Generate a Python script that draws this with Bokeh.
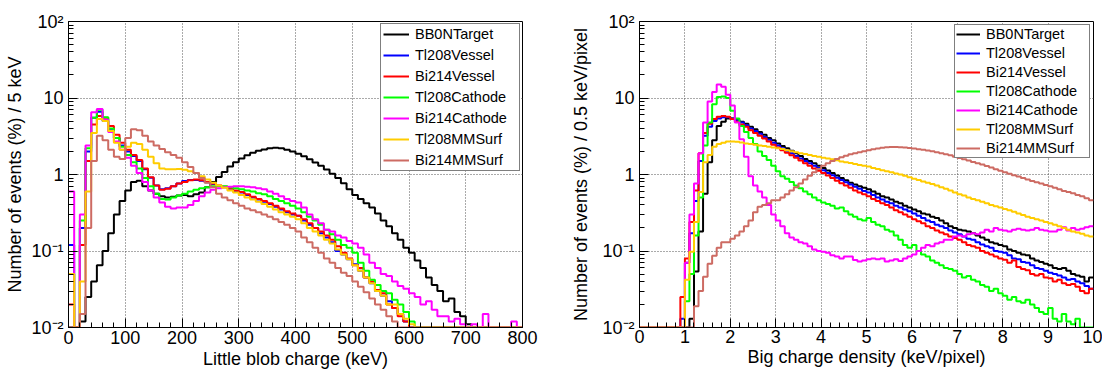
import numpy as np
from bokeh.plotting import figure
from bokeh.layouts import row
from bokeh.models import FixedTicker, CustomJSTickFormatter, Range1d
from bokeh.embed import file_html
from bokeh.resources import INLINE

# ---------------- data ----------------
series_names = ["BB0NTarget", "Tl208Vessel", "Bi214Vessel", "Tl208Cathode",
                "Bi214Cathode", "Tl208MMSurf", "Bi214MMSurf"]
series_colors = ["#000000", "#0000ff", "#ff0000", "#00ff00",
                 "#ff00ff", "#ffcc00", "#cd6b63"]

# Left: little blob charge, 10 keV bins from 0 to 800 keV (values in %)
blob_bin_width = 10
blob_range = (0, 800)
blob_bb0n = [0.01, 0.01, 0.012, 0.025, 0.04, 0.065, 0.1, 0.17, 0.3, 0.45,
             0.62, 0.8, 0.83, 0.7, 0.62, 0.56, 0.52, 0.5, 0.51, 0.53,
             0.54, 0.52, 0.55, 0.58, 0.68, 0.8, 0.93, 1.08, 1.27, 1.45,
             1.62, 1.78, 1.93, 2.04, 2.13, 2.2, 2.24, 2.2, 2.1, 2.0,
             1.87, 1.73, 1.58, 1.43, 1.3, 1.16, 1.02, 0.9, 0.77, 0.64,
             0.54, 0.48, 0.42, 0.37, 0.31, 0.25, 0.21, 0.17, 0.14, 0.11,
             0.095, 0.075, 0.06, 0.045, 0.036, 0.03, 0.022, 0.024, 0.016, 0.014,
             0.011, 0.01, 0.01, 0.01, 0.01, 0.01, 0.01, 0.01, 0.01, 0.01]
blob_tl208_vessel = [0.12, 0.01, 0.2, 2.0, 5.5, 6.6, 5.0, 3.8, 3.0, 2.4,
                     2.0, 1.75, 1.5, 1.17, 0.91, 0.72, 0.64, 0.66, 0.7, 0.76,
                     0.82, 0.85, 0.85, 0.83, 0.79, 0.75, 0.71, 0.68, 0.65, 0.61,
                     0.58, 0.54, 0.5, 0.47, 0.44, 0.41, 0.38, 0.35, 0.32, 0.3,
                     0.29, 0.25, 0.22, 0.2, 0.17, 0.15, 0.13, 0.1, 0.09, 0.078,
                     0.067, 0.055, 0.045, 0.038, 0.03, 0.026, 0.022, 0.018, 0.015, 0.012,
                     0.01, 0.01, 0.01, 0.01, 0.01, 0.01, 0.01, 0.01, 0.01, 0.01,
                     0.01, 0.01, 0.01, 0.01, 0.01, 0.01, 0.01, 0.01, 0.01, 0.01]
blob_bi214_vessel = [0.02, 0.01, 0.12, 1.5, 4.5, 5.8, 5.5, 4.3, 3.3, 2.6,
                     2.1, 1.8, 1.55, 1.2, 0.92, 0.72, 0.63, 0.65, 0.7, 0.76,
                     0.8, 0.84, 0.86, 0.84, 0.8, 0.76, 0.72, 0.69, 0.66, 0.62,
                     0.59, 0.55, 0.51, 0.48, 0.45, 0.42, 0.39, 0.36, 0.33, 0.31,
                     0.29, 0.26, 0.23, 0.2, 0.18, 0.16, 0.14, 0.115, 0.095, 0.08,
                     0.065, 0.06, 0.045, 0.04, 0.031, 0.028, 0.02, 0.018, 0.014, 0.012,
                     0.01, 0.01, 0.01, 0.01, 0.01, 0.01, 0.01, 0.01, 0.01, 0.01,
                     0.01, 0.01, 0.01, 0.01, 0.01, 0.01, 0.01, 0.01, 0.01, 0.01]
blob_tl208_cathode = [0.05, 0.01, 0.25, 2.2, 5.5, 7.0, 5.6, 4.0, 3.0, 2.3,
                      1.8, 1.45, 1.2, 0.9, 0.7, 0.56, 0.48, 0.47, 0.5, 0.53,
                      0.56, 0.6, 0.63, 0.66, 0.68, 0.7, 0.7, 0.7, 0.68, 0.66,
                      0.64, 0.62, 0.6, 0.57, 0.55, 0.52, 0.48, 0.45, 0.42, 0.39,
                      0.36, 0.32, 0.28, 0.25, 0.22, 0.19, 0.165, 0.14, 0.12, 0.11,
                      0.095, 0.07, 0.055, 0.042, 0.036, 0.03, 0.028, 0.023, 0.02, 0.016,
                      0.012, 0.01, 0.01, 0.01, 0.01, 0.01, 0.01, 0.01, 0.01, 0.01,
                      0.01, 0.01, 0.01, 0.01, 0.01, 0.01, 0.01, 0.01, 0.01, 0.01]
blob_bi214_cathode = [0.6, 0.01, 0.3, 2.4, 6.5, 7.2, 5.2, 3.6, 2.7, 2.1,
                      1.65, 1.3, 1.05, 0.8, 0.62, 0.5, 0.43, 0.38, 0.36, 0.37,
                      0.37, 0.4, 0.45, 0.52, 0.58, 0.63, 0.66, 0.68, 0.69, 0.7,
                      0.7, 0.69, 0.68, 0.66, 0.64, 0.6, 0.56, 0.52, 0.48, 0.45,
                      0.43, 0.37, 0.3, 0.26, 0.23, 0.19, 0.18, 0.16, 0.15, 0.135,
                      0.125, 0.11, 0.09, 0.07, 0.06, 0.05, 0.047, 0.04, 0.035, 0.032,
                      0.028, 0.025, 0.02, 0.022, 0.017, 0.014, 0.014, 0.012, 0.013, 0.011,
                      0.01, 0.011, 0.01, 0.015, 0.01, 0.01, 0.01, 0.01, 0.012, 0.01]
blob_tl208_mmsurf = [0.05, 0.01, 0.04, 0.6, 3.5, 5.3, 5.0, 3.7, 2.6, 2.1,
                     2.3, 2.6, 2.5, 2.1, 1.7, 1.4, 1.2, 1.17, 1.17, 1.18,
                     1.15, 1.1, 1.05, 0.95, 0.86, 0.78, 0.72, 0.67, 0.62, 0.58,
                     0.54, 0.5, 0.47, 0.44, 0.41, 0.38, 0.35, 0.32, 0.3, 0.28,
                     0.26, 0.23, 0.2, 0.18, 0.16, 0.14, 0.125, 0.105, 0.09, 0.078,
                     0.065, 0.055, 0.045, 0.038, 0.03, 0.026, 0.02, 0.02, 0.015, 0.013,
                     0.011, 0.01, 0.01, 0.01, 0.01, 0.01, 0.01, 0.01, 0.01, 0.01,
                     0.01, 0.01, 0.01, 0.01, 0.01, 0.01, 0.01, 0.01, 0.01, 0.01]
blob_bi214_mmsurf = [0.01, 0.01, 0.015, 0.2, 1.5, 3.2, 2.8, 2.1, 1.7, 1.6,
                     3.0, 3.9, 3.8, 3.2, 2.7, 2.4, 2.15, 1.95, 1.8, 1.65,
                     1.45, 1.25, 1.05, 0.9, 0.78, 0.68, 0.56, 0.5, 0.46, 0.42,
                     0.39, 0.36, 0.34, 0.32, 0.3, 0.28, 0.26, 0.24, 0.22, 0.2,
                     0.18, 0.15, 0.13, 0.11, 0.095, 0.08, 0.07, 0.06, 0.052, 0.047,
                     0.04, 0.034, 0.029, 0.024, 0.02, 0.017, 0.014, 0.012, 0.01, 0.01,
                     0.01, 0.01, 0.01, 0.01, 0.01, 0.01, 0.01, 0.01, 0.01, 0.01,
                     0.01, 0.01, 0.01, 0.01, 0.01, 0.01, 0.01, 0.01, 0.01, 0.01]

# Right: big charge density, 0.1 keV/pixel bins from 0 to 10 (values in %)
dens_bin_width = 0.1
dens_range = (0, 10)
dens_bb0n = [0.01, 0.01, 0.01, 0.01, 0.01, 0.01, 0.01, 0.01, 0.01, 0.01,
             0.01, 0.013, 0.054, 0.18, 0.56, 1.45, 2.8, 4.3, 4.9, 5.4,
             5.4, 5.2, 4.9, 4.6, 4.2, 3.9, 3.6, 3.3, 3.0, 2.8,
             2.55, 2.35, 2.2, 2.05, 1.9, 1.75, 1.6, 1.5, 1.4, 1.3,
             1.22, 1.13, 1.05, 0.97, 0.9, 0.84, 0.78, 0.74, 0.7, 0.67,
             0.64, 0.6, 0.56, 0.52, 0.5, 0.47, 0.44, 0.42, 0.39, 0.37,
             0.35, 0.33, 0.31, 0.3, 0.28, 0.27, 0.25, 0.23, 0.21, 0.2,
             0.19, 0.185, 0.18, 0.17, 0.16, 0.15, 0.14, 0.13, 0.125, 0.12,
             0.115, 0.105, 0.1, 0.095, 0.09, 0.088, 0.08, 0.075, 0.072, 0.068,
             0.065, 0.06, 0.058, 0.06, 0.055, 0.05, 0.048, 0.046, 0.04, 0.045]
dens_tl208_vessel = [0.01, 0.01, 0.01, 0.01, 0.01, 0.01, 0.01, 0.01, 0.01, 0.013,
                     0.07, 0.17, 0.45, 1.5, 3.2, 4.2, 5.0, 5.4, 5.6, 5.6,
                     5.4, 5.1, 4.8, 4.4, 4.0, 3.7, 3.4, 3.1, 2.85, 2.6,
                     2.4, 2.2, 2.05, 1.9, 1.75, 1.62, 1.5, 1.4, 1.3, 1.22,
                     1.14, 1.05, 0.98, 0.91, 0.85, 0.79, 0.74, 0.69, 0.65, 0.61,
                     0.58, 0.54, 0.5, 0.47, 0.44, 0.42, 0.39, 0.37, 0.35, 0.33,
                     0.31, 0.29, 0.27, 0.25, 0.24, 0.22, 0.21, 0.2, 0.185, 0.175,
                     0.165, 0.155, 0.145, 0.14, 0.13, 0.122, 0.115, 0.11, 0.1, 0.098,
                     0.095, 0.088, 0.08, 0.078, 0.072, 0.07, 0.065, 0.06, 0.058, 0.055,
                     0.052, 0.05, 0.048, 0.045, 0.042, 0.043, 0.04, 0.038, 0.035, 0.032]
dens_bi214_vessel = [0.01, 0.01, 0.01, 0.01, 0.01, 0.01, 0.01, 0.01, 0.01, 0.025,
                     0.08, 0.24, 0.62, 1.9, 3.5, 4.6, 5.3, 5.7, 5.8, 5.7,
                     5.3, 4.9, 4.5, 4.2, 3.8, 3.5, 3.2, 2.95, 2.7, 2.45,
                     2.25, 2.08, 1.92, 1.78, 1.65, 1.52, 1.4, 1.3, 1.2, 1.12,
                     1.05, 0.97, 0.9, 0.83, 0.77, 0.72, 0.67, 0.62, 0.58, 0.55,
                     0.52, 0.48, 0.45, 0.42, 0.4, 0.37, 0.34, 0.32, 0.3, 0.28,
                     0.26, 0.245, 0.23, 0.21, 0.2, 0.185, 0.175, 0.165, 0.155, 0.148,
                     0.14, 0.13, 0.12, 0.115, 0.11, 0.1, 0.095, 0.09, 0.085, 0.08,
                     0.077, 0.07, 0.075, 0.062, 0.058, 0.056, 0.05, 0.048, 0.05, 0.045,
                     0.044, 0.04, 0.042, 0.038, 0.036, 0.037, 0.034, 0.03, 0.028, 0.032]
dens_tl208_cathode = [0.01, 0.01, 0.01, 0.01, 0.01, 0.01, 0.01, 0.01, 0.01, 0.01,
                      0.022, 0.05, 0.16, 0.5, 2.4, 4.8, 8.3, 10.3, 10.5, 10.0,
                      6.8, 5.4, 4.3, 3.6, 3.0, 2.5, 2.0, 1.75, 1.55, 1.3,
                      1.1, 0.95, 0.88, 0.8, 0.72, 0.66, 0.6, 0.55, 0.5, 0.46,
                      0.43, 0.41, 0.39, 0.36, 0.37, 0.33, 0.3, 0.28, 0.26, 0.25,
                      0.27, 0.24, 0.22, 0.21, 0.19, 0.18, 0.16, 0.14, 0.12, 0.11,
                      0.12, 0.1, 0.09, 0.085, 0.075, 0.07, 0.065, 0.06, 0.058, 0.055,
                      0.05, 0.045, 0.047, 0.042, 0.04, 0.036, 0.034, 0.03, 0.032, 0.028,
                      0.026, 0.023, 0.025, 0.022, 0.021, 0.023, 0.02, 0.018, 0.016, 0.015,
                      0.018, 0.013, 0.012, 0.015, 0.012, 0.011, 0.013, 0.01, 0.01, 0.01]
dens_bi214_cathode = [0.01, 0.01, 0.01, 0.01, 0.01, 0.01, 0.01, 0.01, 0.01, 0.01,
                      0.07, 0.3, 0.76, 1.9, 4.8, 9.0, 12.0, 15.0, 14.0, 11.0,
                      8.0, 4.8, 2.9, 1.7, 0.95, 0.72, 0.6, 0.5, 0.4, 0.3,
                      0.25, 0.21, 0.17, 0.15, 0.14, 0.13, 0.125, 0.115, 0.105, 0.1,
                      0.098, 0.095, 0.088, 0.085, 0.08, 0.085, 0.085, 0.076, 0.073, 0.075,
                      0.078, 0.08, 0.078, 0.08, 0.073, 0.075, 0.078, 0.074, 0.08, 0.085,
                      0.09, 0.1, 0.11, 0.12, 0.115, 0.125, 0.13, 0.14, 0.14, 0.155,
                      0.16, 0.155, 0.165, 0.17, 0.165, 0.175, 0.19, 0.18, 0.2, 0.19,
                      0.185, 0.18, 0.19, 0.195, 0.19, 0.185, 0.19, 0.2, 0.19, 0.185,
                      0.18, 0.18, 0.19, 0.205, 0.185, 0.2, 0.19, 0.195, 0.205, 0.21]
dens_tl208_mmsurf = [0.01, 0.01, 0.01, 0.01, 0.01, 0.01, 0.01, 0.01, 0.01, 0.01,
                     0.042, 0.098, 0.24, 0.59, 1.45, 1.8, 2.3, 2.5, 2.6, 2.7,
                     2.7, 2.68, 2.62, 2.55, 2.5, 2.45, 2.4, 2.35, 2.3, 2.25,
                     2.2, 2.15, 2.08, 2.02, 1.96, 1.9, 1.85, 1.8, 1.75, 1.7,
                     1.66, 1.62, 1.58, 1.53, 1.48, 1.45, 1.41, 1.37, 1.33, 1.3,
                     1.27, 1.22, 1.18, 1.14, 1.1, 1.07, 1.03, 1.0, 0.96, 0.92,
                     0.88, 0.85, 0.81, 0.78, 0.75, 0.72, 0.68, 0.65, 0.62, 0.58,
                     0.55, 0.53, 0.5, 0.48, 0.46, 0.44, 0.42, 0.4, 0.385, 0.37,
                     0.355, 0.34, 0.325, 0.31, 0.295, 0.28, 0.27, 0.26, 0.25, 0.24,
                     0.23, 0.22, 0.21, 0.2, 0.19, 0.18, 0.175, 0.168, 0.16, 0.155]
dens_bi214_mmsurf = [0.01, 0.01, 0.01, 0.01, 0.01, 0.01, 0.01, 0.01, 0.01, 0.01,
                     0.01, 0.01, 0.019, 0.03, 0.046, 0.068, 0.087, 0.11, 0.13, 0.13,
                     0.145, 0.16, 0.18, 0.21, 0.25, 0.32, 0.38, 0.4, 0.42, 0.46,
                     0.46, 0.5, 0.55, 0.62, 0.68, 0.76, 0.86, 0.96, 1.07, 1.18,
                     1.3, 1.4, 1.5, 1.6, 1.68, 1.76, 1.84, 1.9, 1.96, 2.02,
                     2.08, 2.14, 2.19, 2.23, 2.27, 2.28, 2.28, 2.27, 2.25, 2.22,
                     2.18, 2.14, 2.1, 2.06, 2.01, 1.96, 1.9, 1.84, 1.78, 1.71,
                     1.64, 1.58, 1.52, 1.46, 1.4, 1.35, 1.29, 1.23, 1.17, 1.12,
                     1.07, 1.02, 0.98, 0.94, 0.9, 0.86, 0.82, 0.79, 0.76, 0.73,
                     0.7, 0.67, 0.64, 0.61, 0.59, 0.57, 0.54, 0.52, 0.49, 0.46]

blob_series = [blob_bb0n, blob_tl208_vessel, blob_bi214_vessel, blob_tl208_cathode,
               blob_bi214_cathode, blob_tl208_mmsurf, blob_bi214_mmsurf]
dens_series = [dens_bb0n, dens_tl208_vessel, dens_bi214_vessel, dens_tl208_cathode,
               dens_bi214_cathode, dens_tl208_mmsurf, dens_bi214_mmsurf]

FONT = "Liberation Sans"

Y_FORMAT = CustomJSTickFormatter(code="""
const e = Math.round(Math.log10(tick));
if (e == 0) { return "1"; }
if (e == 1) { return "10"; }
const sup = {"2": "\\u00b2", "-1": "\\u207b\\u00b9", "-2": "\\u207b\\u00b2"};
return "10" + sup[String(e)];
""")


def make_panel(series, bin_width, xr, major, minor, xlabel, ylabel,
               left, right, top, bottom, ylab_standoff, xlab_standoffs,
               leg_spacing, leg_pad, leg_margin, leg_glyph):
    fw, fh = 454, 306
    p = figure(frame_width=fw, frame_height=fh, output_backend="svg",
               toolbar_location=None, y_axis_type="log",
               x_range=Range1d(*xr), y_range=Range1d(0.01, 100),
               min_border_left=left, min_border_right=right,
               min_border_top=top, min_border_bottom=bottom)
    p.background_fill_color = "white"
    p.border_fill_color = "white"
    p.outline_line_color = "black"
    p.outline_line_width = 1

    n = len(series[0])
    edges = xr[0] + bin_width * np.arange(n + 1)
    for vals, name, col in zip(series, series_names, series_colors):
        y = list(vals) + [vals[-1]]
        p.step(edges, y, mode="after", line_color=col, line_width=2,
               legend_label=name)

    p.xaxis.ticker = FixedTicker(ticks=major, minor_ticks=minor)
    ymajor = [0.01, 0.1, 1, 10, 100]
    yminor = [m * 10.0 ** e for e in range(-2, 2) for m in range(2, 10)]
    p.yaxis.ticker = FixedTicker(ticks=ymajor, minor_ticks=yminor)
    p.yaxis.formatter = Y_FORMAT
    for ax in (p.xaxis[0], p.yaxis[0]):
        ax.axis_line_color = "black"
        ax.major_tick_line_color = "black"
        ax.minor_tick_line_color = "black"
        ax.major_tick_in = 9
        ax.major_tick_out = 0
        ax.minor_tick_in = 5
        ax.minor_tick_out = 0
        ax.major_label_text_font = FONT
        ax.major_label_text_font_size = "18px"
        ax.major_label_text_color = "black"
        ax.axis_label_text_font = FONT
        ax.axis_label_text_font_size = "18px"
        ax.axis_label_text_font_style = "normal"
        ax.axis_label_text_color = "black"
    p.xaxis.axis_label = xlabel
    p.yaxis.axis_label = ylabel
    p.xaxis.major_label_standoff = xlab_standoffs[0]
    p.xaxis.axis_label_standoff = xlab_standoffs[1]
    p.yaxis.major_label_standoff = 5
    p.yaxis.axis_label_standoff = ylab_standoff

    for g in (p.xgrid[0], p.ygrid[0]):
        g.grid_line_color = "#555555"
        g.grid_line_dash = "1 2"
        g.grid_line_width = 1

    lg = p.legend[0]
    lg.location = "top_right"
    lg.margin = leg_margin
    lg.border_line_color = "black"
    lg.border_line_width = 1
    lg.background_fill_color = "white"
    lg.background_fill_alpha = 1
    lg.label_text_font = FONT
    lg.label_text_font_size = "14.5px"
    lg.label_text_color = "black"
    lg.glyph_width = leg_glyph
    lg.glyph_height = 16
    lg.label_height = 16
    lg.label_width = 102
    lg.label_standoff = 6
    lg.spacing = leg_spacing
    lg.padding = leg_pad
    return p


p1 = make_panel(blob_series, blob_bin_width, blob_range,
                list(range(0, 801, 100)), list(range(0, 801, 20)),
                "Little blob charge (keV)", "Number of events (%) / 5 keV",
                left=68, right=38, top=19, bottom=45, ylab_standoff=3,
                xlab_standoffs=(3, 2),
                leg_spacing=5, leg_pad=2, leg_margin=2, leg_glyph=26)
p2 = make_panel(dens_series, dens_bin_width, dens_range,
                list(range(0, 11)), [round(0.2 * k, 1) for k in range(51)],
                "Big charge density (keV/pixel)", "Number of events (%) / 0.5 keV/pixel",
                left=79, right=9, top=21, bottom=43, ylab_standoff=8,
                xlab_standoffs=(2, 1),
                leg_spacing=3, leg_pad=1, leg_margin=3, leg_glyph=24)

layout = row(p1, p2)
with open("out.html", "w", encoding="utf-8") as f:
    f.write(file_html(layout, INLINE))
